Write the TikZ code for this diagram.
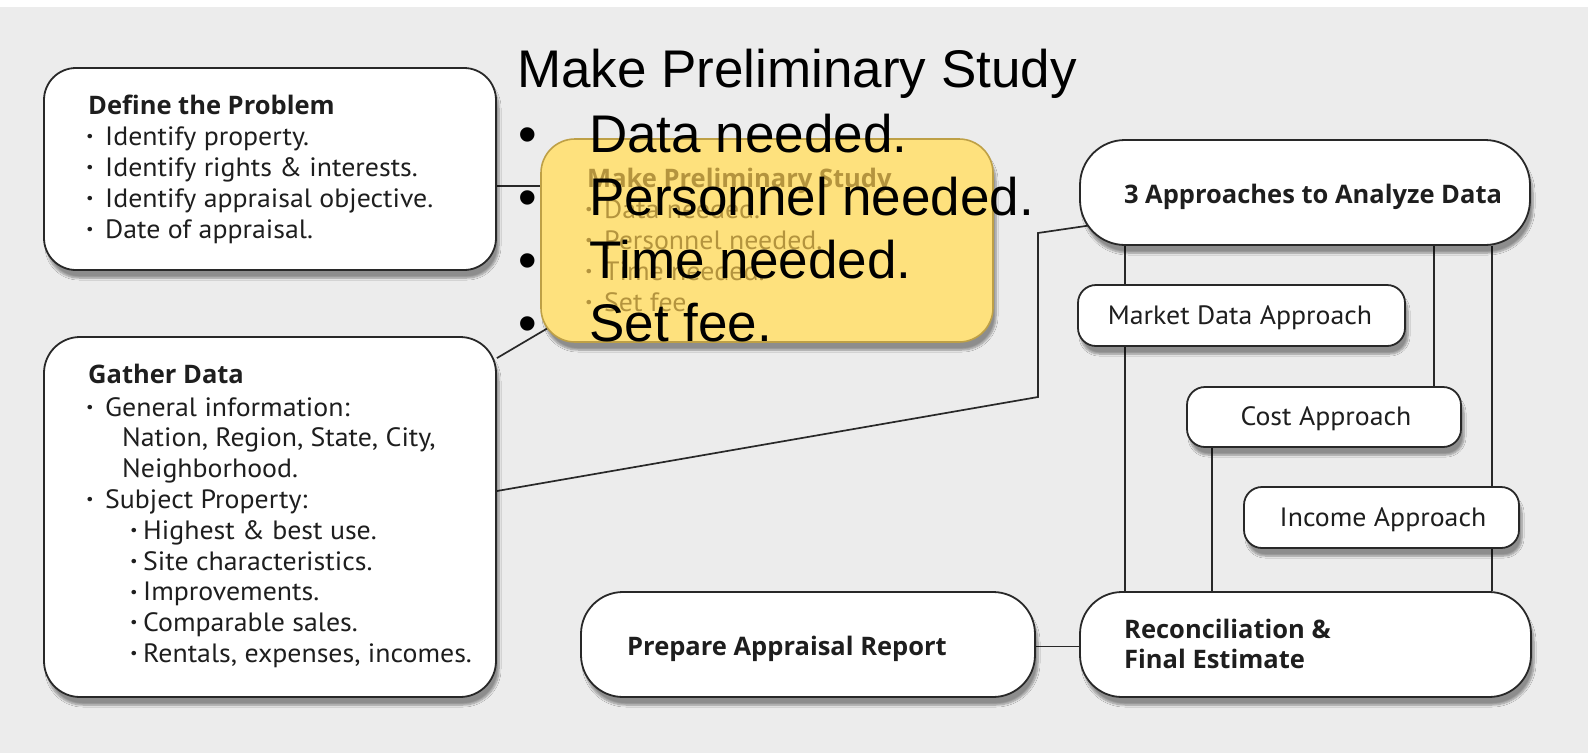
\documentclass[tikz,border=0pt]{standalone}
\usepackage{fontspec}
\setmainfont{PT Sans}
\newfontfamily\regf{PT Sans}[FakeStretch=1.05]
\newfontfamily\boldf{Open Sans}
\newfontfamily\arialf{Liberation Sans}
\usetikzlibrary{shadows,shadows.blur,backgrounds,calc}
\definecolor{bgc}{RGB}{236,236,236}
\definecolor{edge}{RGB}{40,40,40}
\definecolor{ybox}{RGB}{254,225,125}
\definecolor{yedge}{RGB}{190,160,70}
\definecolor{faded}{RGB}{180,148,62}
\definecolor{ink}{RGB}{30,30,30}
\newcommand\mybul[1]{\makebox[#1][l]{\raisebox{0.28ex}{\scalebox{0.6}{•}}}}
\tikzset{
  box/.style={draw=edge, line width=1.8pt, fill=white, rounded corners=#1, inner sep=0pt,
    blur shadow={shadow xshift=3pt, shadow yshift=-8pt, shadow opacity=40, shadow blur steps=8}},
  box/.default=30pt,
  yelbox/.style={box=34pt, draw=yedge, line width=1.6pt, fill=ybox},
  conn/.style={draw=edge, line width=1.7pt},
  txt/.style={anchor=base west, inner sep=0pt, text=ink, font=\regf\fontsize{26.5}{30}\selectfont},
  btxt/.style={txt, font=\boldf\bfseries\fontsize{25.5}{30}\selectfont},
  ftxt/.style={txt, text=faded},
  fbtxt/.style={btxt, text=faded},
  big/.style={anchor=base west, inner sep=0pt, text=black, font=\arialf\fontsize{53}{60}\selectfont}
}
\begin{document}
\begin{tikzpicture}[x=1pt,y=-1pt]
\useasboundingbox (0,0) rectangle (1588,753);
% boxes
\node[box=32pt, minimum width=452pt, minimum height=202pt] (def) at (270,169) {};
\node[box=36pt, minimum width=452pt, minimum height=360pt] (gather) at (270,517) {};
\node[yelbox, minimum width=452pt, minimum height=203pt] (prelim) at (767,240.5) {};
\node[box=45pt, minimum width=450pt, minimum height=105pt] (appr) at (1305,192.5) {};
\node[box=18pt, minimum width=327pt, minimum height=61pt] (market) at (1241.5,315.5) {};
\node[box=18pt, minimum width=274pt, minimum height=60pt] (cost) at (1324,417) {};
\node[box=18pt, minimum width=275pt, minimum height=61pt] (income) at (1381.5,517.5) {};
\node[box=42pt, minimum width=454pt, minimum height=105pt] (prep) at (808,644.5) {};
\node[box=42pt, minimum width=451pt, minimum height=105pt] (recon) at (1305.5,644.5) {};
% connectors
\begin{scope}[on background layer]
\fill[bgc] (0,0) rectangle (1588,753);
\fill[white] (0,0) rectangle (1588,7);
\draw[conn] ([yshift=-17pt]def.east) -- ([yshift=-17pt]def.east -| prelim.west);
\draw[conn] ([yshift=-22pt]gather.north east) -- ([xshift=20pt,yshift=22pt]prelim.south west);
\coordinate (bendA) at (1038,397);
\coordinate (bendB) at (1038,233);
\draw[conn] ([yshift=26pt]gather.east) -- (bendA) -- (bendB) -- ([xshift=10pt,yshift=-33pt]appr.west);
\draw[conn] ([xshift=46pt]appr.south west) -- ([xshift=46pt]appr.south west |- recon.north);
\draw[conn] ([xshift=-97pt]appr.south east) -- ([xshift=-97pt]appr.south east |- cost.north);
\draw[conn] ([xshift=-39pt]appr.south east) -- ([xshift=-39pt]appr.south east |- recon.north);
\draw[conn] ([xshift=26pt]cost.south west) -- ([xshift=26pt]cost.south west |- recon.north);
\draw[conn] ([yshift=-2pt]prep.east) -- ([yshift=-2pt]prep.east -| recon.west);
\end{scope}
% Define the Problem
\node[btxt] (def-t) at (88,114) {Define the Problem};
\foreach \t [count=\i from 0] in {{Identify property.},{Identify rights \& interests.},{Identify appraisal objective.},{Date of appraisal.}}
  \node[txt] (def-\i) at (86,145+31*\i) {\mybul{19pt}\t};
% Gather Data
\node[btxt] (gat-t) at (88,383) {Gather Data};
\node[txt] (gat-0) at (86,416) {\mybul{19pt}General information:};
\node[txt] (gat-1) at (122,446.8) {Nation, Region, State, City,};
\node[txt] (gat-2) at (122,477.6) {Neighborhood.};
\node[txt] (gat-3) at (86,508.4) {\mybul{19pt}Subject Property:};
\foreach \t [count=\i from 0] in {{Highest \& best use.},{Site characteristics.},{Improvements.},{Comparable sales.},{Rentals, expenses, incomes.}}
  \node[txt] (gat-s\i) at (130,539.2+30.8*\i) {\mybul{13pt}\t};
% Preliminary (faded)
\node[fbtxt] (pre-t) at (587,187) {Make Preliminary Study};
\foreach \t [count=\i from 0] in {{Data needed.},{Personnel needed.},{Time needed.},{Set fee.}}
  \node[ftxt] (pre-\i) at (585,218+31*\i) {\mybul{19pt}\t};
% right side
\node[btxt, anchor=base] (appr-t) at (1313,203) {3 Approaches to Analyze Data};
\node[txt, anchor=base] (market-t) at (1240,324) {Market Data Approach};
\node[txt, anchor=base] (cost-t) at (1326,425) {Cost Approach};
\node[txt, anchor=base] (income-t) at (1383,526) {Income Approach};
\node[btxt] (prep-t) at (627,655) {Prepare Appraisal Report};
\node[btxt] (recon-t1) at (1124,638) {Reconciliation \&};
\node[btxt] (recon-t2) at (1124,668) {Final Estimate};
% overlay text
\node[big] (ov-t) at (517,87) {Make Preliminary Study};
\foreach \t [count=\i from 0] in {{Data needed.},{Personnel needed.},{Time needed.},{Set fee.}}{
  \node[big] (ov-b\i) at (518,152+63.3*\i) {•};
  \node[big] (ov-\i) at (589,152+63.3*\i) {\t};
}
\end{tikzpicture}
\end{document}
